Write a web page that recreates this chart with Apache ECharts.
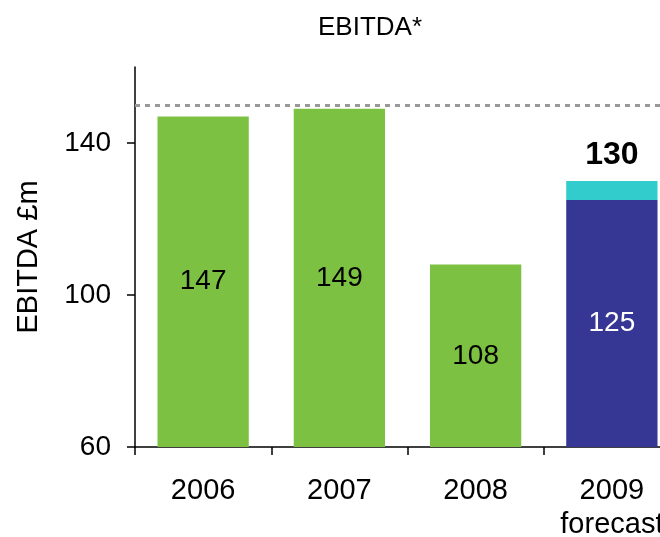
<!DOCTYPE html>
<html>
<head>
<meta charset="utf-8">
<script src="https://cdn.jsdelivr.net/npm/echarts@6/dist/echarts.min.js"></script>
<style>html,body{margin:0;padding:0;background:#fff}#c{width:660px;height:537px}</style>
</head>
<body>
<div id="c"></div>
<script>
var categories = ['2006', '2007', '2008', '2009\nforecast'];
var baseValues = [147, 149, 108, 125];
var extraValues = [null, null, null, 5];
var totalLabels = ['', '', '', '130'];
var yTicks = [60, 100, 140];
var referenceLine = 150;

var green = '#7DC142', navy = '#363795', cyan = '#33CCCC';
var font = 'Liberation Sans, Arial, sans-serif';

var chart = echarts.init(document.getElementById('c'), null, {renderer: 'canvas'});
chart.setOption({
  animation: false,
  title: {
    text: 'EBITDA*', left: 318, top: 15, padding: 0,
    textStyle: {fontFamily: font, fontSize: 26, fontWeight: 'normal', color: '#000'}
  },
  grid: {left: 135, top: 67, height: 380, width: 545, outerBoundsMode: 'none', containLabel: false},
  xAxis: {
    type: 'category', data: categories,
    axisLine: {lineStyle: {color: '#000', width: 1.5}},
    axisTick: {show: true, length: 8, lineStyle: {color: '#000', width: 1.5}},
    axisLabel: {fontFamily: font, fontSize: 29, color: '#000', margin: 27, lineHeight: 34}
  },
  yAxis: {
    type: 'value', min: 60, max: 160, interval: 40,
    name: 'EBITDA £m', nameLocation: 'middle', nameGap: 92, nameRotate: 90,
    nameTextStyle: {fontFamily: font, fontSize: 29, color: '#000'},
    splitLine: {show: false},
    axisLine: {show: true, lineStyle: {color: '#000', width: 1.5}},
    axisTick: {show: true, length: 8, customValues: yTicks, lineStyle: {color: '#000', width: 1.5}},
    axisLabel: {fontFamily: font, fontSize: 28, color: '#000', margin: 24, customValues: yTicks}
  },
  series: [
    {
      type: 'bar', stack: 's', barWidth: '67%',
      data: baseValues.map(function (v, i) {
        return {value: v, itemStyle: {color: i === 3 ? navy : green},
          label: {color: i === 3 ? '#fff' : '#000'}};
      }),
      label: {show: true, position: 'inside', fontFamily: font, fontSize: 28},
      markLine: {
        silent: true, symbol: 'none', label: {show: false},
        lineStyle: {color: '#999', type: [5, 5], width: 3},
        data: [{yAxis: referenceLine}]
      }
    },
    {
      type: 'bar', stack: 's', barWidth: '67%',
      itemStyle: {color: cyan},
      data: extraValues,
      label: {
        show: true, position: 'top', distance: 10,
        fontFamily: font, fontSize: 32, fontWeight: 'bold', color: '#000',
        formatter: function (p) { return totalLabels[p.dataIndex]; }
      }
    }
  ]
});
</script>
</body>
</html>
